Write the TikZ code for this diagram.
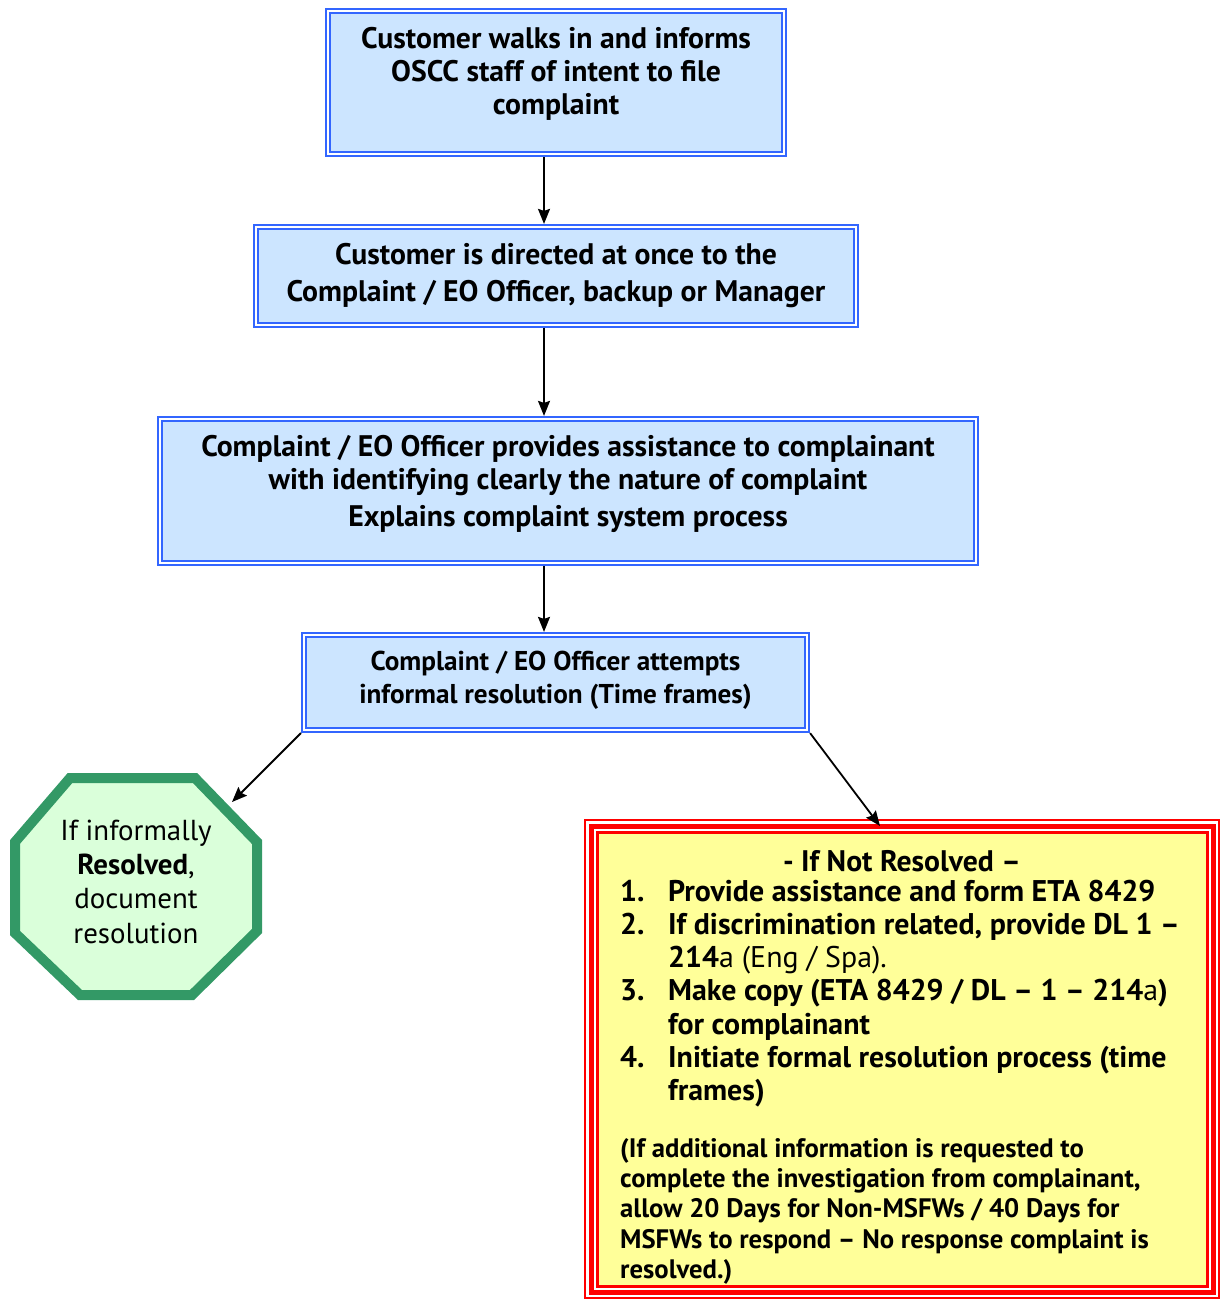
\documentclass[tikz,border=0pt]{standalone}
\usepackage{fontspec}
\setmainfont{PT Sans}
\usetikzlibrary{arrows.meta}
\definecolor{boxblue}{HTML}{3366FF}
\definecolor{boxfill}{HTML}{CCE5FF}
\definecolor{octgreen}{HTML}{339966}
\definecolor{octfill}{HTML}{DAFFDA}
\definecolor{notefill}{HTML}{FFFF99}
\newcommand\fsBig{\fontsize{29.7}{33}\selectfont}
\newcommand\fsMid{\fontsize{27.2}{33}\selectfont}
\newcommand\fsOct{\fontsize{28.9}{33}\selectfont}
\newcommand\fsList{\fontsize{29.9}{33.3}\selectfont}
\newcommand\fsNote{\fontsize{26.7}{30.25}\selectfont}
\begin{document}
\begin{tikzpicture}[x=1pt,y=-1pt,
  box/.style={draw=boxblue, double=white, double distance=1.8pt, line width=2.2pt,
    fill=boxfill, inner sep=0pt, outer sep=3.1pt},
  btxt/.style={align=center, font=\bfseries\fsBig, inner sep=0pt},
  arr/.style={line width=1.8pt, -{Stealth[length=15pt,width=12pt,inset=2pt]}},
  octline/.style={draw=octgreen, fill=octfill, line width=10pt, line join=miter},
  redline/.style={draw=red, inner sep=0pt, outer sep=0pt}]
\useasboundingbox (0,0) rectangle (1223,1300);

% boxes
\node[box, minimum width=456pt, minimum height=143pt] (b1) at (556,82.5) {};
\node[btxt] (t1) at (556,74) {Customer walks in and informs\\OSCC staff of intent to file\\complaint};

\node[box, minimum width=600pt, minimum height=98pt] (b2) at (556,276) {};
\node[btxt] (t2) at (556,275.5) {Customer is directed at once to the\\[4pt]Complaint / EO Officer, backup or Manager};

\node[box, minimum width=816pt, minimum height=144pt] (b3) at (568,491) {};
\node[btxt] (t3) at (568,484) {Complaint / EO Officer provides assistance to complainant\\with identifying clearly the nature of complaint\\[4pt]Explains complaint system process};

\node[box, minimum width=503pt, minimum height=95pt] (b4) at (555.5,682.5) {};
\node[btxt, font=\bfseries\fsMid] (t4) at (555.5,680.5) {Complaint / EO Officer attempts\\informal resolution (Time frames)};

% vertical connectors
\coordinate (ax) at (544,0);
\draw[arr] (b1.south -| ax) -- (b2.north -| ax);
\draw[arr] (b2.south -| ax) -- (b3.north -| ax);
\draw[arr] (b3.south -| ax) -- (b4.north -| ax);

% octagon
\draw[octline] (70,778) -- (195,778) -- (257,842) -- (257,931) -- (192,995) -- (80,995) -- (15,933) -- (15,842) -- cycle;
\node[align=center, font=\fsOct, inner sep=0pt] (oct) at (136,882)
  {If informally\\[1pt]\textbf{Resolved},\\[1pt]document\\[2pt]resolution};
\coordinate (octA) at (232,802);

% red note box
\node[redline, line width=2pt, fill=white, minimum width=634pt, minimum height=478pt] (r1) at (902,1059) {};
\node[redline, line width=5pt, minimum width=622pt, minimum height=466pt] (r2) at (r1.center) {};
\node[redline, line width=3pt, fill=notefill, minimum width=610pt, minimum height=454pt] (r3) at (r1.center) {};
\coordinate (redA) at (880,826);

\node[font=\bfseries\fsBig, inner sep=0pt] (rt) at (902,861) {- If Not Resolved –};
\node[anchor=north west, inner sep=0pt, font=\bfseries\fsList] (rl) at (620,877.5)
 {\begin{tabular}{@{}p{48pt}@{}l@{}}
  1. & Provide assistance and form ETA 8429\\
  2. & If discrimination related, provide DL 1 –\\
     & 214{\mdseries a (Eng / Spa).}\\
  3. & Make copy (ETA 8429 / DL – 1 – 214{\mdseries a})\\
     & for complainant\\
  4. & Initiate formal resolution process (time\\
     & frames)
 \end{tabular}};
\node[anchor=north west, inner sep=0pt, font=\bfseries\fsNote] (rn) at (620,1136)
 {\begin{tabular}{@{}l@{}}
  (If additional information is requested to\\
  complete the investigation from complainant,\\
  allow 20 Days for Non-MSFWs / 40 Days for\\
  MSFWs to respond – No response complaint is\\
  resolved.)
 \end{tabular}};

% diagonal connectors
\draw[arr] (b4.south west) -- (octA);
\draw[arr] (b4.south east) -- (redA);
\end{tikzpicture}
\end{document}
